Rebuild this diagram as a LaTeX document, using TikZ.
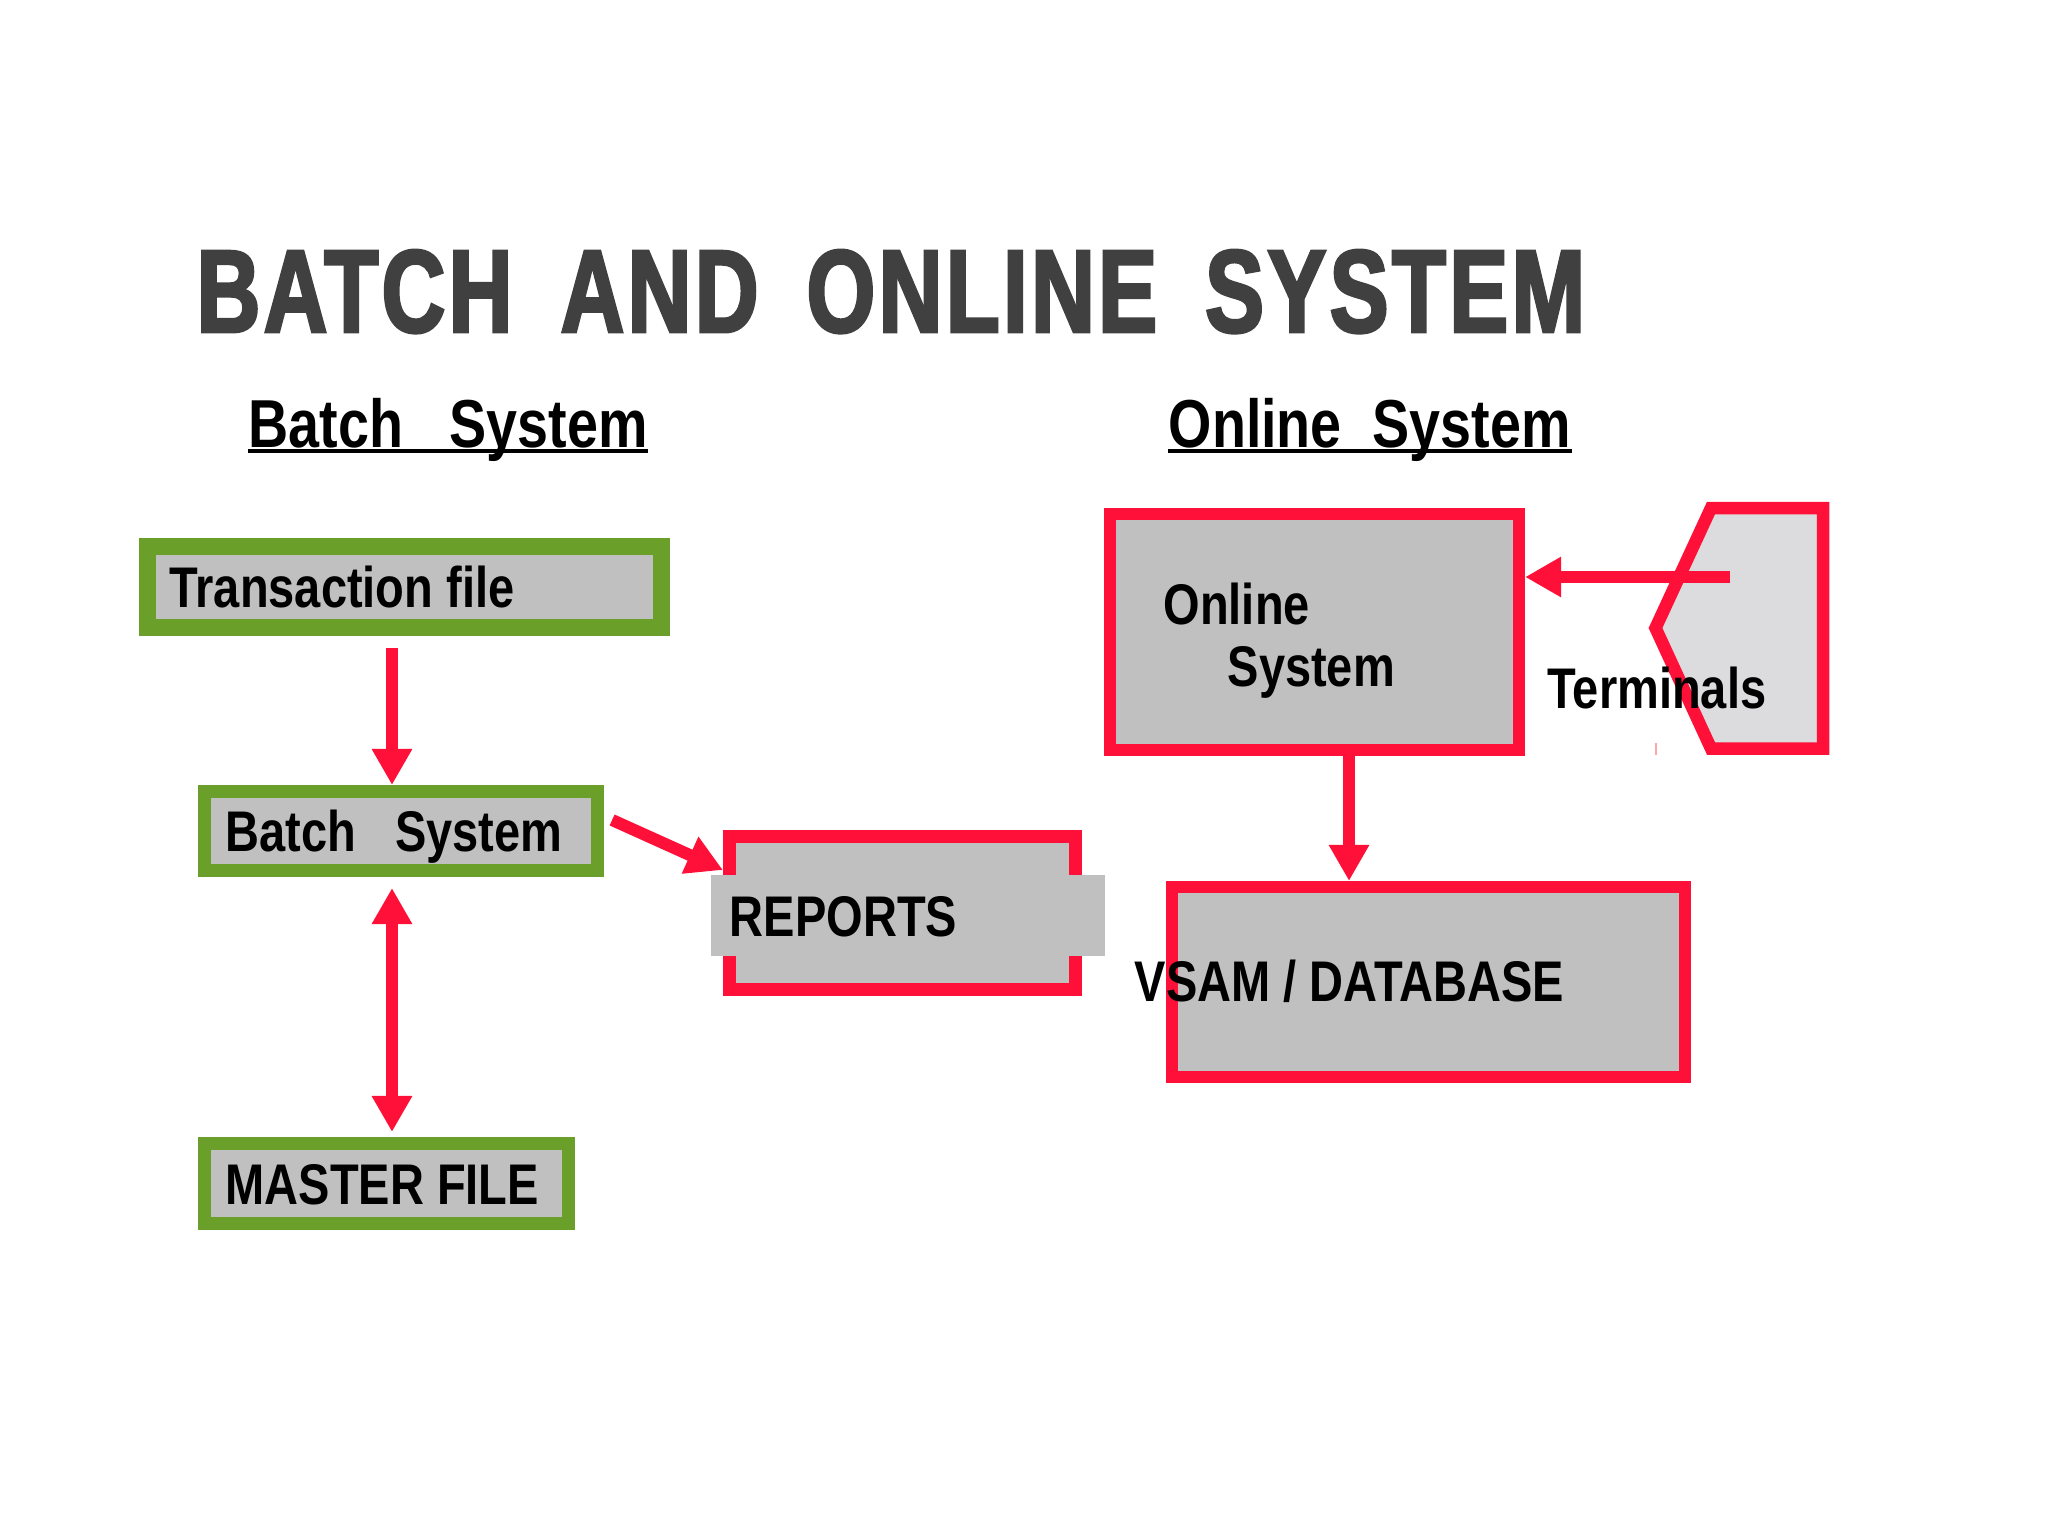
\documentclass[tikz,border=0pt]{standalone}
\usepackage{fontspec}
\setmainfont{Liberation Sans}
\newfontfamily\narrowfont[FakeStretch=0.82]{Liberation Sans}
\newfontfamily\bannerface[FakeStretch=0.75, FakeBold=2.5, LetterSpace=3]{Liberation Sans}
\newcommand{\boxlabelfont}{\narrowfont\bfseries\fontsize{16.3}{17.64}\selectfont}
\newcommand{\sublabelfont}{\narrowfont\bfseries\fontsize{19.3}{23}\selectfont}
\newcommand{\bannerfont}{\bannerface\bfseries\fontsize{33.4}{40}\selectfont\spaceskip=0.41em\relax}
\usetikzlibrary{arrows.meta, positioning, calc}
\definecolor{flowred}{RGB}{255, 16, 56}
\definecolor{filegreen}{RGB}{106, 160, 42}
\definecolor{boxgray}{RGB}{192, 192, 192}
\definecolor{termgray}{RGB}{220, 220, 222}
\definecolor{headgray}{RGB}{64, 64, 64}

\begin{document}
\begin{tikzpicture}[
    x=0.01cm, y=-0.01cm,
    txt/.style={font=\boxlabelfont, text=black, inner sep=0pt},
    boxlabel/.style={txt, text height=0.41cm, text depth=0pt},
    filebox/.style={draw=filegreen, fill=boxgray, line width=0.13cm},
    sysbox/.style={draw=flowred, fill=boxgray, line width=0.12cm},
    arr/.style={-{Triangle[length=0.36cm, width=0.38cm]}, line width=0.12cm, flowred},
    dblarr/.style={{Triangle[length=0.36cm, width=0.38cm]}-{Triangle[length=0.36cm, width=0.38cm]}, line width=0.12cm, flowred},
    heading/.style={font=\sublabelfont, text=black, inner sep=0pt, anchor=base west},
    uline/.style={line width=0.04cm, black}
  ]
    \fill[white] (0,0) rectangle (2048,1536);
    \useasboundingbox (0,0) rectangle (2048,1536);

    % titles
    \node[anchor=base west, inner sep=0pt, font=\bannerfont, text=headgray] (title) at (196,332) {BATCH AND ONLINE SYSTEM};
    \node[heading] (hbatch) at (248,447) {Batch~~~System};
    \node[heading] (honline) at (1168,447) {Online~~System};
    \draw[uline] ([yshift=-0.035cm]hbatch.base west) -- ([yshift=-0.035cm]hbatch.base east);
    \draw[uline] ([yshift=-0.035cm]honline.base west) -- ([yshift=-0.035cm]honline.base east);

    % batch side
    \node[filebox, line width=0.17cm, minimum width=5.14cm, minimum height=0.81cm] (tf) at (404.5,587) {};
    \node[boxlabel, right=0.30cm of tf.west] (tftxt) {Transaction file};
    \node[filebox, minimum width=3.93cm, minimum height=0.79cm] (bs) at (401,831) {};
    \node[boxlabel, right=0.27cm of bs.west] (bstxt) {Batch~~~System};
    \node[filebox, minimum width=3.64cm, minimum height=0.80cm] (ms) at (386.5,1183.5) {};
    \node[boxlabel, right=0.27cm of ms.west] (mstxt) {MASTER FILE};
    \node[sysbox, line width=0.13cm, minimum width=3.46cm, minimum height=1.53cm] (rep) at (902.5,913) {};
    \node[fill=boxgray, inner sep=0pt, minimum width=3.94cm, minimum height=0.81cm] (repband) at (908,915.5) {};
    \node[boxlabel, right=0.19cm of repband.west] (reptxt) {REPORTS};

    % online side
    \node[sysbox, minimum width=4.09cm, minimum height=2.36cm] (on) at (1314.5,632) {};
    \node[txt, align=left, below right=0.74cm and 0.59cm of on.north west] (ontxt) {Online\\\hspace*{0.64cm}System};
    \node[sysbox, minimum width=5.13cm, minimum height=1.90cm] (vs) at (1428.5,982) {};
    \node[txt, anchor=base west] (vstxt) at (1134,1001) {VSAM / DATABASE};

    \draw[flowred, fill=termgray, line width=0.125cm] (1711,508) -- (1823,508) -- (1823,748.5) -- (1711,748.5) -- (1655.5,628) -- cycle;
    \node[txt, anchor=base west] (termtxt) at (1547,708) {Terminals};
    \draw[red!35, line width=0.02cm] (1656,743) -- (1656,755);
    \coordinate (termtail) at (1730,577);

    % connectors
    \draw[arr] ([xshift=-0.125cm, yshift=-0.12cm]tf.south) -- ([xshift=-0.125cm]tf.south |- bs.north);
    \draw[dblarr] ([xshift=-0.125cm, yshift=-0.11cm]tf.south |- bs.south) -- ([xshift=-0.125cm, yshift=0.05cm]tf.south |- ms.north);
    \draw[arr] ([xshift=0.08cm, yshift=0.11cm]bs.east) -- ([yshift=-0.40cm]rep.north west);
    \draw[arr] (termtail) -- (termtail -| on.east);
    \draw[arr] ([xshift=0.345cm]on.south) -- ([xshift=0.345cm]on.south |- vs.north);
\end{tikzpicture}
\end{document}
